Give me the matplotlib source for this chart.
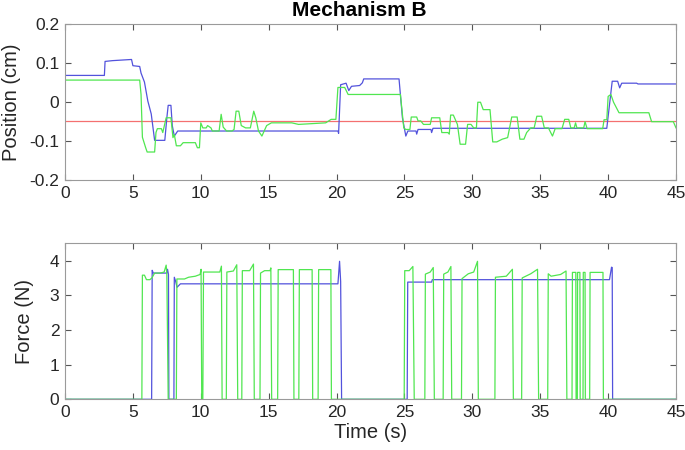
import matplotlib
matplotlib.use('Agg')
import matplotlib.pyplot as plt

plt.rcParams['font.family'] = ['Liberation Sans', 'DejaVu Sans']

# (time s, value) breakpoints
pos_blue = [(0, 0.069), (2.9, 0.069), (2.95, 0.105), (3.5, 0.107), (4.9, 0.11), (5.0, 0.094),
            (5.5, 0.092), (5.6, 0.075), (5.85, 0.052), (6.1, 0.003), (6.35, -0.03), (6.6, -0.098),
            (7.35, -0.098), (7.5, -0.04), (7.6, -0.008), (7.8, -0.008), (7.9, -0.06), (8.05, -0.087),
            (8.3, -0.074), (12.0, -0.074), (20.1, -0.074), (20.15, -0.08), (20.3, 0.045), (20.7, 0.049),
            (20.9, 0.03), (21.1, 0.041), (21.7, 0.043), (21.9, 0.05), (22.0, 0.06), (24.6, 0.06),
            (24.85, -0.04), (25.1, -0.087), (25.25, -0.074), (25.85, -0.074), (25.9, -0.082),
            (26.0, -0.07), (26.95, -0.07), (27.0, -0.078), (27.1, -0.067), (39.9, -0.067),
            (40.3, 0.054), (40.7, 0.054), (40.85, 0.037), (41.0, 0.049), (42.1, 0.049),
            (42.2, 0.047), (45, 0.047)]

pos_green = [(0, 0.057), (5.5, 0.057), (5.6, 0.02), (5.7, -0.09), (5.95, -0.118), (6.05, -0.128),
             (6.6, -0.128), (6.7, -0.078), (6.8, -0.068), (7.1, -0.068), (7.2, -0.078), (7.45, -0.04),
             (7.8, -0.04), (7.95, -0.091), (8.05, -0.083), (8.2, -0.112), (8.5, -0.112), (8.7, -0.104),
             (9.6, -0.104), (9.75, -0.117), (9.9, -0.117), (10.0, -0.053), (10.15, -0.066),
             (10.4, -0.066), (10.5, -0.06), (10.75, -0.066), (10.85, -0.074), (11.35, -0.074),
             (11.5, -0.031), (11.65, -0.064), (11.9, -0.074), (12.3, -0.074), (12.45, -0.07),
             (12.6, -0.023), (12.8, -0.023), (12.98, -0.06), (13.3, -0.066), (13.65, -0.066),
             (13.9, -0.023), (14.05, -0.04), (14.25, -0.074), (14.5, -0.087), (14.85, -0.06),
             (15.2, -0.053), (16.7, -0.053), (17.2, -0.057), (18.2, -0.055), (19.2, -0.053),
             (19.6, -0.044), (19.95, -0.044), (20.1, 0.038), (20.6, 0.038), (20.85, 0.02),
             (24.7, 0.02), (24.95, -0.066), (25.1, -0.07), (25.4, -0.07), (25.5, -0.038),
             (25.9, -0.038), (26.0, -0.048), (26.2, -0.048), (26.4, -0.057), (26.9, -0.057),
             (27.0, -0.04), (27.6, -0.04), (27.75, -0.078), (28.2, -0.078), (28.3, -0.082),
             (28.4, -0.033), (28.6, -0.033), (28.9, -0.057), (29.1, -0.108), (29.5, -0.108),
             (29.65, -0.057), (29.9, -0.057), (30.1, -0.066), (30.3, -0.066), (30.4, 0.0),
             (30.6, 0.0), (30.8, -0.019), (31.3, -0.019), (31.5, -0.102), (31.8, -0.102),
             (32.2, -0.095), (32.6, -0.091), (32.9, -0.038), (33.3, -0.038), (33.5, -0.095),
             (33.8, -0.095), (34.0, -0.078), (34.3, -0.066), (34.55, -0.066), (34.75, -0.036),
             (35.1, -0.036), (35.3, -0.066), (35.6, -0.066), (35.9, -0.087), (36.1, -0.068),
             (36.6, -0.068), (36.8, -0.044), (37.1, -0.044), (37.25, -0.066), (37.5, -0.066),
             (37.6, -0.053), (37.7, -0.066), (38.2, -0.066), (38.3, -0.05), (38.45, -0.068),
             (39.6, -0.068), (39.7, -0.045), (39.9, -0.045), (40.0, 0.015), (40.2, 0.02),
             (40.4, 0.0), (40.8, -0.027), (43.0, -0.027), (43.2, -0.05), (44.8, -0.05), (45, -0.066)]

pos_target = -0.047

force_blue = [(0, 0), (6.38, 0), (6.42, 3.72), (6.5, 3.64), (7.5, 3.64), (7.55, 3.75), (7.62, 3.6),
              (7.65, 0), (8.02, 0), (8.05, 3.52), (8.15, 3.4), (8.25, 3.23), (8.5, 3.33),
              (20.1, 3.33), (20.22, 3.98), (20.3, 3.4), (20.37, 0), (25.2, 0), (25.24, 3.38),
              (27.0, 3.38), (27.05, 3.45), (40.1, 3.45), (40.25, 3.81), (40.3, 3.8), (40.33, 0),
              (45, 0)]

force_green = [(0, 0), (5.66, 0), (5.7, 3.58), (5.85, 3.58), (6.0, 3.45), (6.25, 3.45), (6.4, 3.5),
               (6.6, 3.64), (7.0, 3.64), (7.3, 3.67), (7.45, 3.87), (7.5, 3.6), (7.6, 0),
               (8.2, 0), (8.24, 3.47), (8.8, 3.47), (9.1, 3.52), (9.6, 3.55), (9.95, 3.6),
               (10.02, 3.75), (10.07, 0), (10.15, 0), (10.2, 3.67), (11.4, 3.67), (11.52, 3.84),
               (11.57, 0), (11.88, 0), (11.92, 3.67), (12.4, 3.7), (12.65, 3.88), (12.72, 0),
               (13.02, 0), (13.06, 3.71), (13.6, 3.71), (13.88, 3.9), (13.94, 0), (14.36, 0),
               (14.4, 3.64), (14.7, 3.71), (15.1, 3.71), (15.16, 3.79), (15.22, 0), (15.66, 0),
               (15.7, 3.74), (16.82, 3.74), (16.86, 0), (17.22, 0), (17.26, 3.74), (18.2, 3.74),
               (18.24, 0), (18.64, 0), (18.68, 3.74), (19.58, 3.74), (19.62, 0),
               (24.98, 0), (25.02, 3.71), (25.35, 3.71), (25.62, 3.83), (25.72, 0), (26.5, 0),
               (26.54, 3.61), (26.9, 3.67), (27.12, 3.8), (27.2, 0), (27.85, 0), (27.89, 3.61),
               (28.2, 3.67), (28.42, 3.83), (28.48, 0), (29.2, 0), (29.24, 3.48), (29.7, 3.62),
               (30.1, 3.67), (30.38, 3.98), (30.44, 0), (31.66, 0), (31.7, 3.52), (32.5, 3.55),
               (32.95, 3.75), (33.02, 0), (33.63, 0), (33.67, 3.5), (34.3, 3.62), (34.8, 3.75),
               (34.88, 0), (35.55, 0), (35.59, 3.62), (35.8, 3.55), (36.5, 3.6), (36.9, 3.7),
               (36.96, 0), (37.34, 0), (37.37, 3.66), (37.62, 3.66), (37.64, 0), (37.73, 0),
               (37.75, 3.66), (37.92, 3.66), (37.94, 0), (38.15, 0), (38.17, 3.66), (38.3, 3.66),
               (38.32, 0), (38.64, 0), (38.67, 3.66), (39.62, 3.66), (39.65, 0), (45, 0)]

blue = '#5252dc'
green = '#50e650'
red = '#f47070'
grey = '#9a9a9a'
txt = '#262626'


def style(ax):
    for s in ax.spines.values():
        s.set_color(grey)
        s.set_linewidth(0.8)
    ax.tick_params(direction='in', top=True, right=True, length=4, width=0.8,
                   color='#555555', labelsize=12.5, labelcolor=txt, pad=4)
    ax.set_xlim(0, 45)
    ax.set_xticks(range(0, 46, 5))


fig = plt.figure(figsize=(6.85, 4.5), dpi=100)
ax1 = fig.add_axes([0.0949, 0.6, 0.892, 0.3456])
ax2 = fig.add_axes([0.0949, 0.1127, 0.892, 0.3467])

t, v = zip(*pos_blue)
ax1.plot(t, v, color=blue, lw=0.9)
t, v = zip(*pos_green)
ax1.plot(t, v, color=green, lw=0.9)
ax1.plot([0, 45], [pos_target, pos_target], color=red, lw=0.9, zorder=1)
style(ax1)
ax1.set_ylim(-0.2, 0.2)
ax1.set_yticks([-0.2, -0.1, 0, 0.1, 0.2])
ax1.set_yticklabels(['-0.2', '-0.1', '0', '0.1', '0.2'])
ax1.set_ylabel('Position (cm)', fontsize=14.5, color=txt, labelpad=6)
ax1.set_title('Mechanism B', fontsize=15, fontweight='bold', color='black', pad=6, x=0.482)

t, v = zip(*force_blue)
ax2.plot(t, v, color=blue, lw=0.9)
t, v = zip(*force_green)
ax2.plot(t, v, color=green, lw=0.9)
style(ax2)
ax2.set_ylim(0, 4.5)
ax2.set_yticks([0, 1, 2, 3, 4])
ax2.set_ylabel('Force (N)', fontsize=14.5, color=txt, labelpad=11)
ax2.set_xlabel('Time (s)', fontsize=14.5, color=txt, labelpad=2)

fig.savefig('out.png', dpi=100)
